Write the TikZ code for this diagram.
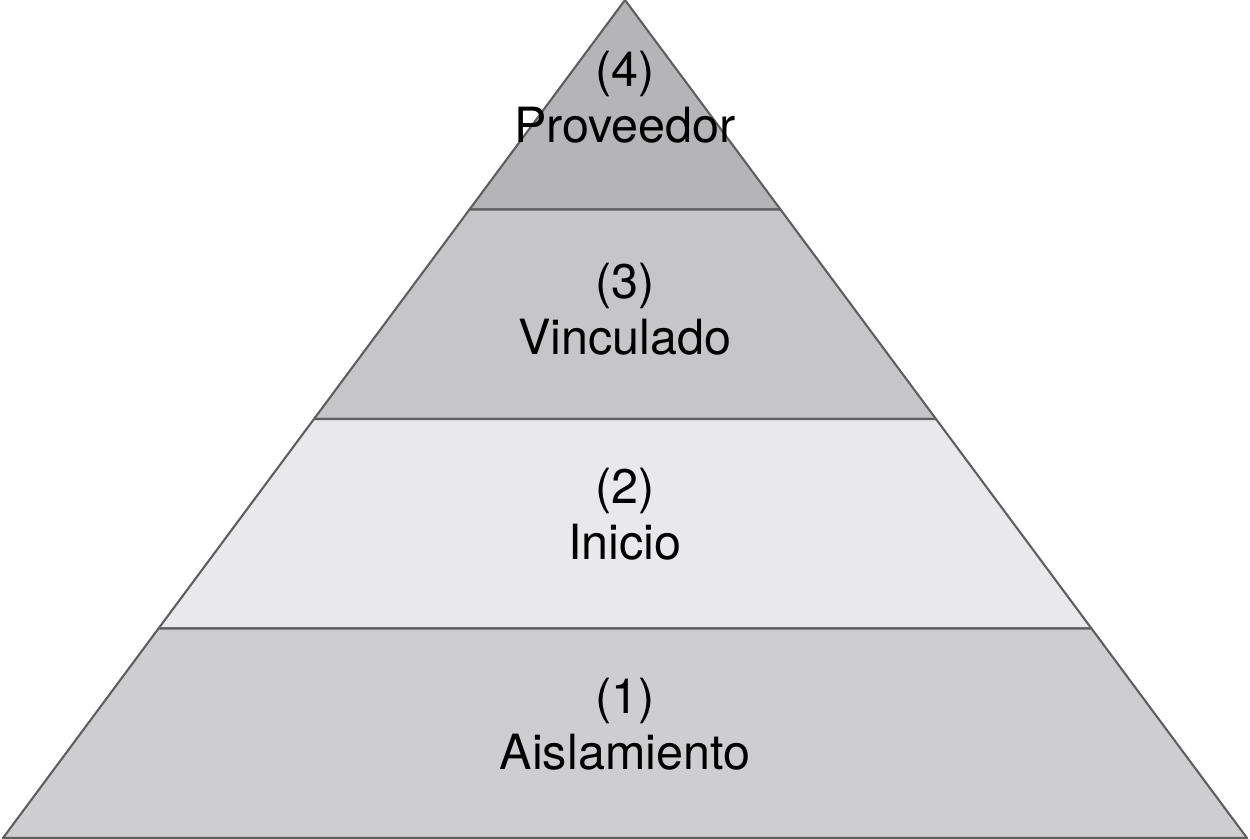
\documentclass[tikz,border=0pt]{standalone}
\usepackage{fontspec}
\setmainfont{TeX Gyre Heros}
\usetikzlibrary{calc}
\definecolor{c4}{RGB}{181,181,183}
\definecolor{c3}{RGB}{198,198,200}
\definecolor{c2}{RGB}{233,233,235}
\definecolor{c1}{RGB}{206,206,208}
\definecolor{ln}{RGB}{95,95,95}
\tikzset{lvl/.style={draw=ln,line width=.6pt,line join=round},
 lab/.style={align=center,inner sep=0pt,font=\fontsize{13.8}{15.9}\selectfont}}
\begin{document}
\begin{tikzpicture}[x=.01cm,y=-.01cm]
\useasboundingbox (0,0) rectangle (1250,839);
\coordinate (t) at (625,0);\coordinate (bl) at (3,838);\coordinate (br) at (1247,838);
\foreach \k in {1,2,3}{\coordinate (l\k) at ($(t)!\k/4!(bl)$);\coordinate (r\k) at ($(t)!\k/4!(br)$);}
\draw[lvl,fill=c4] (t)--(r1)--(l1)--cycle;
\draw[lvl,fill=c3] (l1)--(r1)--(r2)--(l2)--cycle;
\draw[lvl,fill=c2] (l2)--(r2)--(r3)--(l3)--cycle;
\draw[lvl,fill=c1] (l3)--(r3)--(br)--(bl)--cycle;
\node[lab] (n4) at (625,97) {(4)\\Proveedor};
\node[lab] (n3) at (625,309) {(3)\\Vinculado};
\node[lab] (n2) at (625,514) {(2)\\Inicio};
\node[lab] (n1) at (625,724) {(1)\\Aislamiento};
\end{tikzpicture}
\end{document}
